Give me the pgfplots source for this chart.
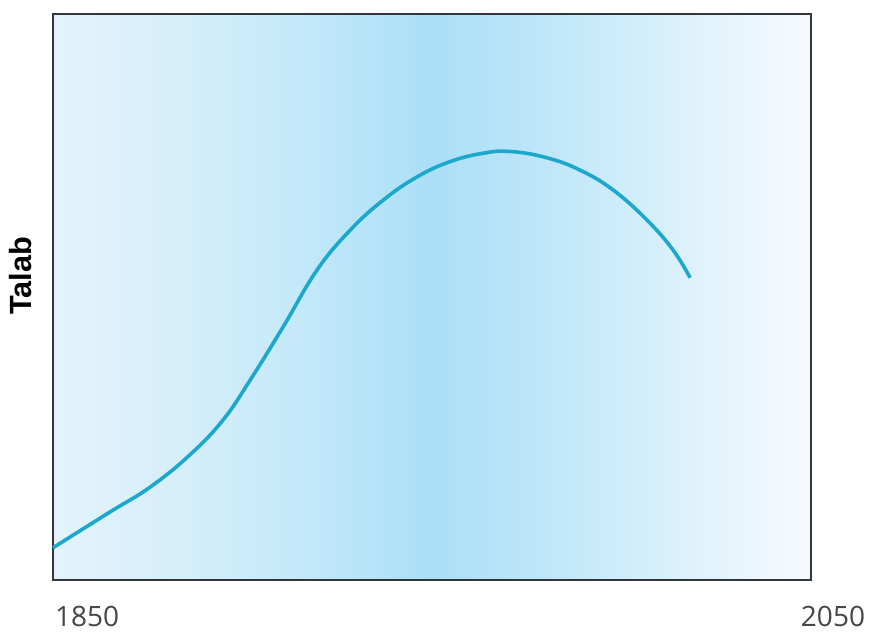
\documentclass[border=0pt]{standalone}
\usepackage{pgfplots}
\pgfplotsset{compat=1.18}
\usepackage{fontspec}
\setmainfont{Open Sans}
\newfontfamily\labfont{Liberation Sans}
\definecolor{curve}{RGB}{28,168,204}
\definecolor{frame}{RGB}{50,53,57}
\definecolor{ticktext}{RGB}{70,70,70}
\pgfdeclarehorizontalshading{bgshade}{100bp}{%
  color(0bp)=(rgb,255:red,228;green,243;blue,251);
  color(25bp)=(rgb,255:red,228;green,243;blue,251);
  color(35bp)=(rgb,255:red,210;green,237;blue,250);
  color(42bp)=(rgb,255:red,194;green,232;blue,249);
  color(50bp)=(rgb,255:red,170;green,223;blue,246);
  color(58bp)=(rgb,255:red,192;green,231;blue,249);
  color(65bp)=(rgb,255:red,215;green,239;blue,251);
  color(75bp)=(rgb,255:red,248;green,251;blue,254);
  color(100bp)=(rgb,255:red,248;green,251;blue,254)}
\begin{document}
\begin{tikzpicture}
\useasboundingbox (-39.75pt,-41.25pt) rectangle (615pt,435pt);
\begin{axis}[
  at={(0,0)}, anchor=south west,
  scale only axis, width=568.5pt, height=424.5pt,
  xmin=1850, xmax=2050, ymin=0, ymax=100,
  xtick=\empty, ytick=\empty,
  axis line style={frame, line width=2.1pt},
  axis background/.style={shading=bgshade},
  clip=false,
]
\addplot[curve, line width=2.7pt, smooth, tension=0.7] coordinates {
 (1850,5.7) (1865.0,12.0) (1875.6,16.4) (1886.1,22.1) (1894.9,28.3)
 (1902.0,35.3) (1910.7,44.7) (1919.7,54.8) (1928.4,61.8) (1937.1,67.1)
 (1946.0,71.2) (1954.7,73.9) (1963.5,75.4) (1970.8,75.7)
 (1980.3,74.6) (1989.1,72.4) (1997.8,68.9) (2006.7,63.6) (2013.6,58.3)
 (2018.1,53.4)};
\node[font=\fontsize{21}{24}\selectfont, text=ticktext] at (rel axis cs:0.0449,0) [yshift=-27pt] {1850};
\node[font=\fontsize{21}{24}\selectfont, text=ticktext] at (rel axis cs:1.029,0) [yshift=-27pt] {2050};
\node[xshift=-24pt, rotate=90, font=\labfont\bfseries\fontsize{23}{26}\selectfont] at (rel axis cs:0,0.537) {Talab};
\end{axis}
\end{tikzpicture}
\end{document}
